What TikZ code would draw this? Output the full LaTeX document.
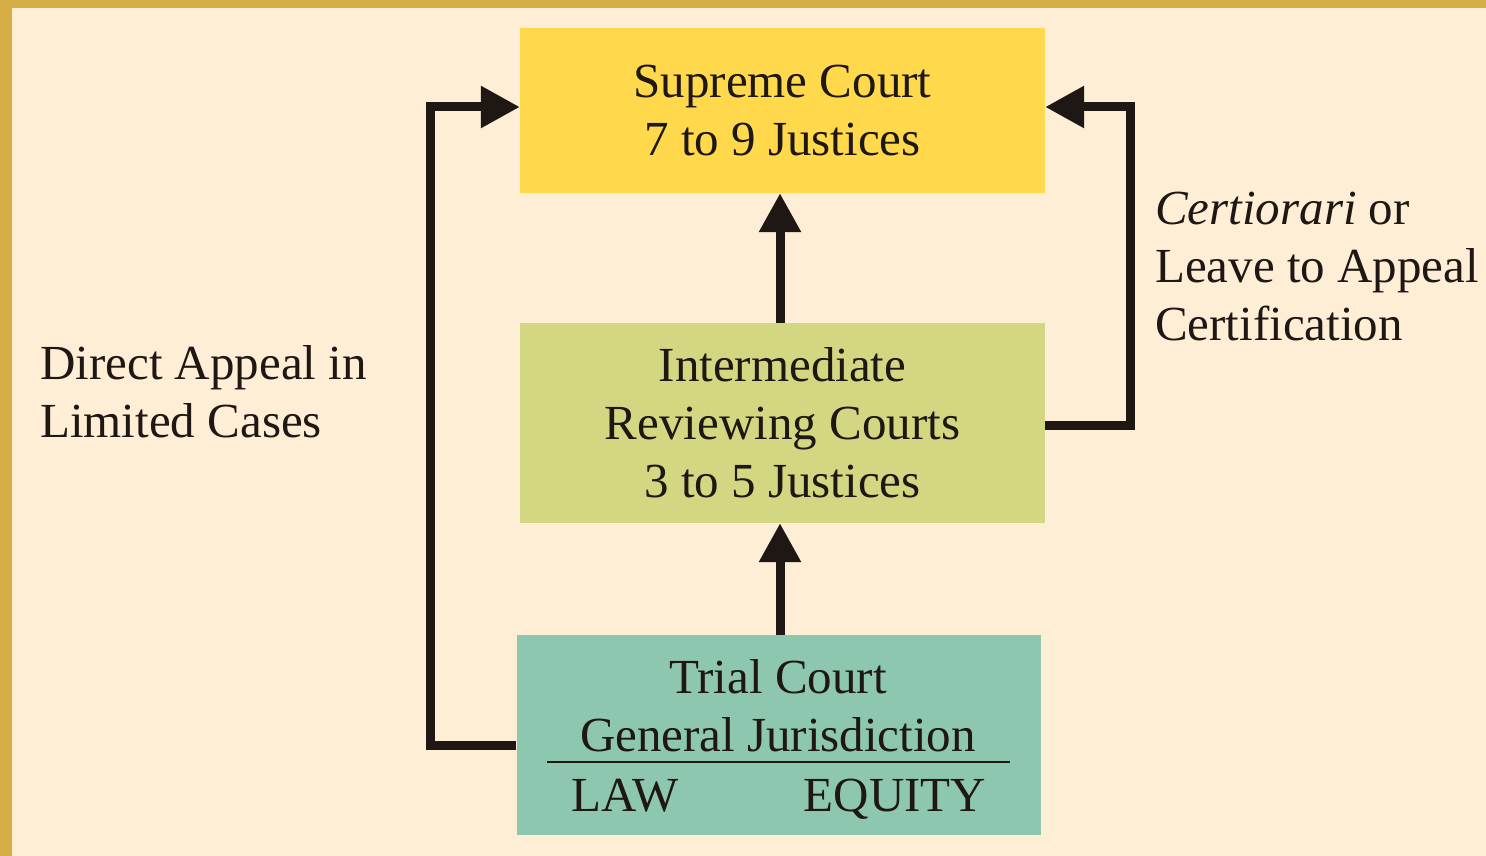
\documentclass[tikz,border=0pt]{standalone}
\usepackage{fontspec}
\setmainfont{Liberation Serif}
\usetikzlibrary{arrows.meta}
\definecolor{cream}{HTML}{FEEED5}
\definecolor{gold}{HTML}{D5AE45}
\definecolor{supy}{HTML}{FFD94B}
\definecolor{interg}{HTML}{D4D781}
\definecolor{trialg}{HTML}{8DC7AF}
\definecolor{ink}{HTML}{1E1714}
\tikzset{
  court/.style={minimum width=525pt, inner sep=0pt, align=center, text=ink,
    font=\fontsize{49}{58}\selectfont},
  lbl/.style={align=left, text=ink, inner sep=0pt, anchor=west,
    font=\fontsize{49}{58}\selectfont},
  conn/.style={line width=9pt, draw=ink, -{Triangle[length=39pt,width=40pt]}},
}
\begin{document}
\begin{tikzpicture}[x=1pt,y=-1pt]
\useasboundingbox (0,0) rectangle (1486,856);
\fill[gold] (0,0) rectangle (1486,856);
\fill[cream] (12,8) rectangle (1486,856);
% boxes
\node[court, fill=supy, minimum height=165pt] (sup) at (782.5,110.5)
  {Supreme Court\\7 to 9 Justices};
\node[court, fill=interg, minimum height=200pt] (int) at (782.5,423)
  {Intermediate\\Reviewing Courts\\3 to 5 Justices};
\node[court, fill=trialg, minimum width=524pt, minimum height=200pt] (tri) at (778.5,735) {};
\node[court, minimum width=0pt] (trit) at (778,706) {Trial Court\\General Jurisdiction};
\node[court, minimum width=0pt, anchor=base] (law) at (625,811) {LAW};
\node[court, minimum width=0pt, anchor=base] (eq) at (895,811) {EQUITY};
\coordinate (sepL) at (547,762);
\coordinate (sepR) at (1010,762);
\draw[ink, line width=2pt] (sepL) -- (sepR);
% labels
\node[lbl] (dir) at (40,392) {Direct Appeal in\\Limited Cases};
\node[lbl] (cert) at (1155,267) {\textit{Certiorari} or\\Leave to Appeal\\Certification};
% connectors
\draw[conn] (int.north -| 780,0) -- (sup.south -| 780,0);
\draw[conn] (tri.north -| 780,0) -- (int.south -| 780,0);
\coordinate (lc) at (430,107);
\coordinate (rc) at (1130,107);
\draw[conn] (tri.west |- 0,745) -| (lc) -- (sup.west |- lc);
\draw[conn] (int.east |- 0,425) -| (rc) -- (sup.east |- rc);
\end{tikzpicture}
\end{document}
